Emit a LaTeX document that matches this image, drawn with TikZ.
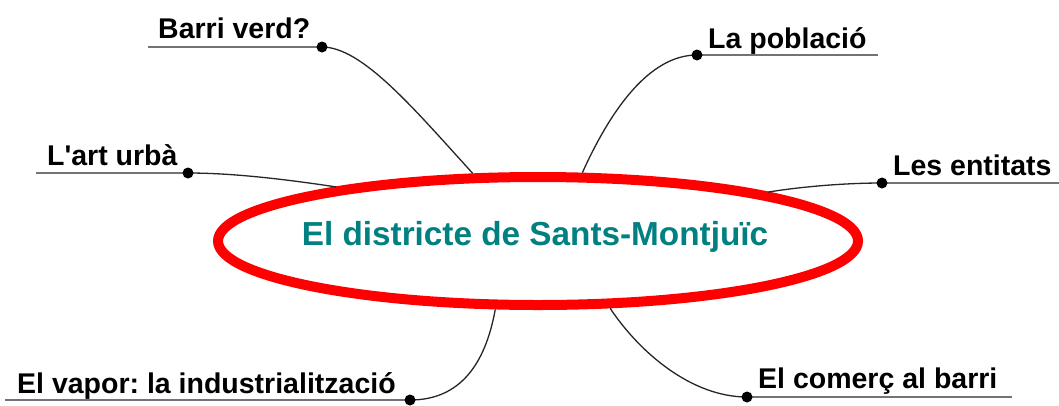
\documentclass[tikz,border=0pt]{standalone}
\usepackage{fontspec}
\setmainfont{Liberation Sans}[Ligatures=TeXOff]
\usetikzlibrary{shapes.geometric}
\definecolor{tealtxt}{RGB}{0,128,128}
\definecolor{ulgray}{RGB}{115,115,115}
\begin{document}
\frenchspacing
\begin{tikzpicture}[x=1pt,y=-1pt,
  lbl/.style={anchor=base west, inner sep=0pt, font=\fontsize{28.5}{30}\selectfont\bfseries},
  conn/.style={line width=1.3pt, black!85},
  uline/.style={line width=2.5pt, ulgray},
  dotmark/.style={fill=black}]
\fill[white] (0,0) rectangle (1059,405);
\useasboundingbox (0,0) rectangle (1059,405);

% central ellipse
\node[ellipse, draw=red, line width=10pt, minimum width=640pt, minimum height=128pt, inner sep=0pt] (c) at (538,241) {};
\node[anchor=base, inner sep=0pt, text=tealtxt, font=\fontsize{33.3}{36}\selectfont\bfseries] (title) at (535,245) {El districte de Sants-Montjuïc};

% dots and underline ends
\coordinate (d1) at (322,47);  \coordinate (u1) at (148,47);
\coordinate (d2) at (188,173); \coordinate (u2) at (36,173);
\coordinate (d3) at (697,55);  \coordinate (u3) at (878,55);
\coordinate (d4) at (882,183); \coordinate (u4) at (1059,183);
\coordinate (d5) at (410,400); \coordinate (u5) at (5,400);
\coordinate (d6) at (747,397); \coordinate (u6) at (1012,397);

% labels
\node[lbl] (t1) at (158,38) {Barri verd?};
\node[lbl] (t2) at (47,165) {L'art urbà};
\node[lbl] (t3) at (708,48) {La població};
\node[lbl] (t4) at (893,175) {Les entitats};
\node[lbl] (t5) at (17,393) {El vapor: la industrialització};
\node[lbl] (t6) at (758,388) {El comerç al barri};

% underlines
\foreach \i in {1,...,6} { \draw[uline] (u\i) -- (d\i); }

% connectors
\draw[conn] (c.134) .. controls +(-60,-66) and +(40,0) .. (d1);
\draw[conn] (c.165) .. controls +(-40,-6) and +(50,0) .. (d2);
\draw[conn] (c.57.5) .. controls +(28,-62) and +(-48,0) .. (d3);
\draw[conn] (c.12.7) .. controls +(30,-5) and +(-40,0) .. (d4);
\draw[conn] (c.238) .. controls +(-10,55) and +(50,0) .. (d5);
\draw[conn] (c.317) .. controls +(30,45) and +(-55,0) .. (d6);

% dots
\foreach \i in {1,...,6} { \fill[dotmark] (d\i) circle (5.5pt); }
\end{tikzpicture}
\end{document}
